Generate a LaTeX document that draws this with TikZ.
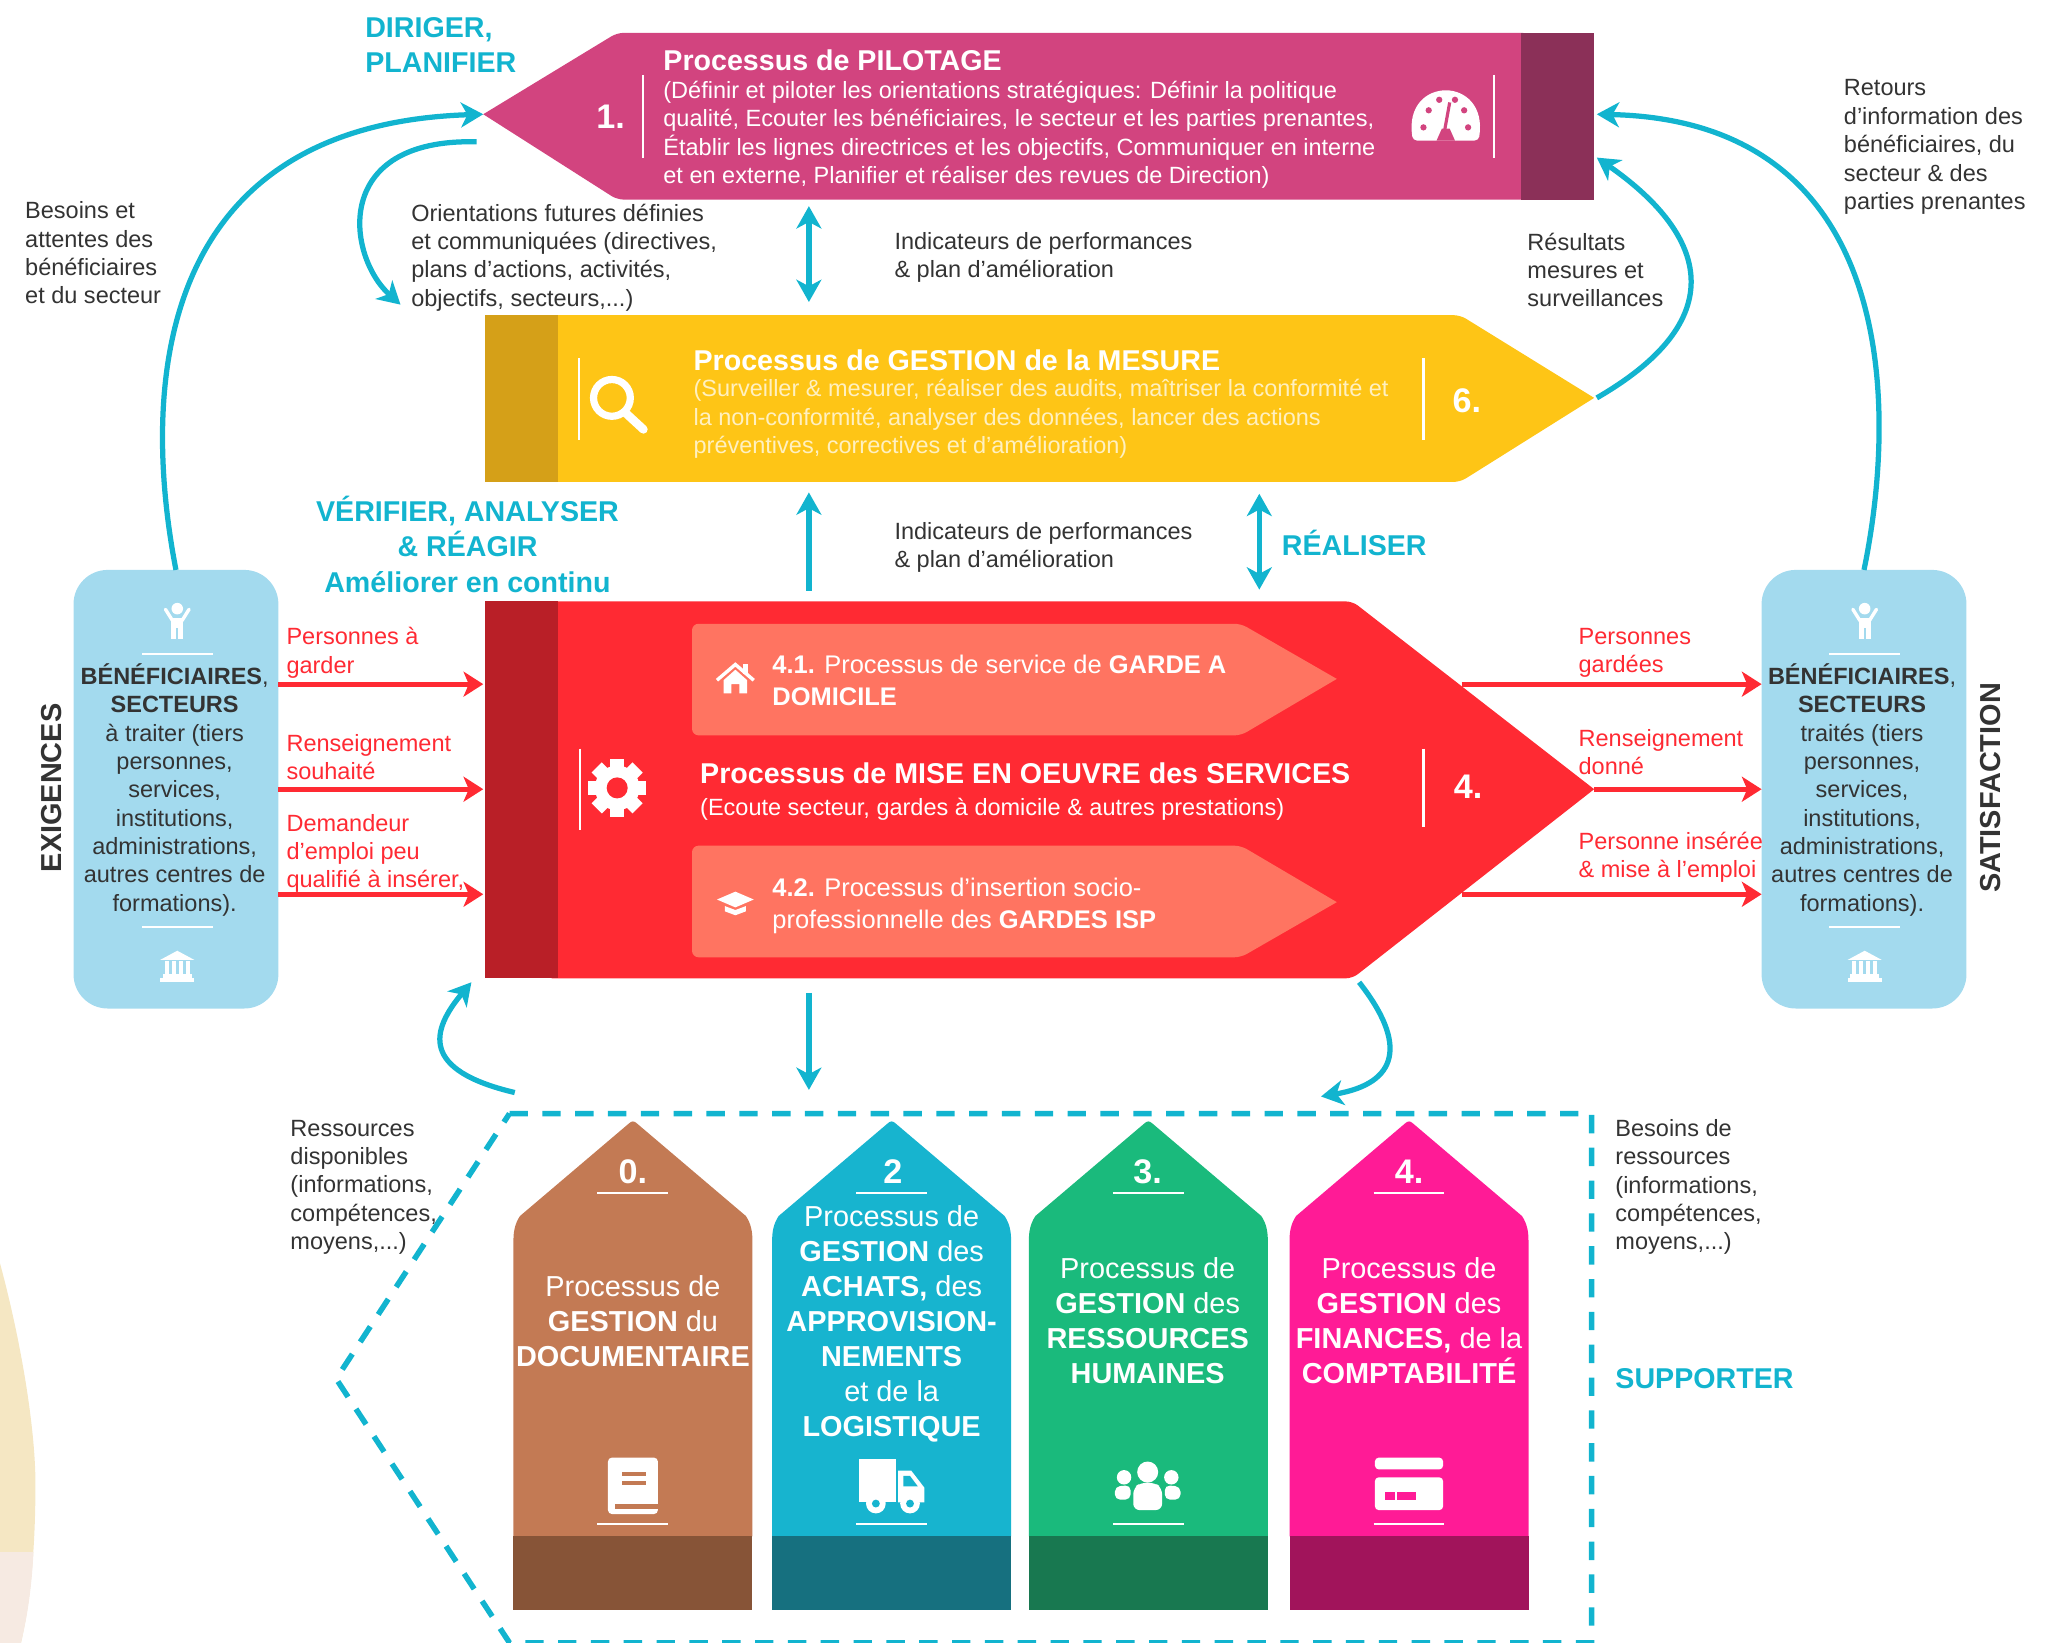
\documentclass[tikz,border=0pt]{standalone}
\usepackage{fontspec}
\setmainfont{Liberation Sans}
\usetikzlibrary{arrows.meta,calc}
\definecolor{tealc}{HTML}{12B4CF}
\definecolor{pilotc}{HTML}{D2447F}
\definecolor{pilotd}{HTML}{8B3058}
\definecolor{yellowc}{HTML}{FEC516}
\definecolor{yellowd}{HTML}{D5A018}
\definecolor{yellowt}{HTML}{FFF0C0}
\definecolor{redc}{HTML}{FF2A33}
\definecolor{redd}{HTML}{B91F27}
\definecolor{salmonc}{HTML}{FF7461}
\definecolor{bluebox}{HTML}{A3DAEE}
\definecolor{txtc}{HTML}{333333}
\definecolor{creamc}{HTML}{F5E7C3}
\definecolor{creaml}{HTML}{F6EAE2}
\definecolor{brownc}{HTML}{C37A54}
\definecolor{brownd}{HTML}{875437}
\definecolor{cyanc}{HTML}{17B4CF}
\definecolor{cyand}{HTML}{16707F}
\definecolor{greenc}{HTML}{1ABA7C}
\definecolor{greend}{HTML}{187850}
\definecolor{pinkc}{HTML}{FF1B96}
\definecolor{pinkd}{HTML}{A1145B}
\tikzset{
	lab/.style={anchor=west, align=left, inner sep=0pt, text=txtc, font=\fontsize{17.9}{21.6}\selectfont},
	redlab/.style={lab, text=redc},
	head/.style={anchor=west, align=left, inner sep=0pt, text=tealc, font=\fontsize{21.8}{26.5}\selectfont\bfseries},
	ptitle/.style={anchor=west, inner sep=0pt, text=white, font=\fontsize{21.8}{26}\selectfont\bfseries},
	pbody/.style={anchor=west, align=left, inner sep=0pt, text=white, font=\fontsize{17.9}{21.6}\selectfont},
	pnum/.style={inner sep=0pt, text=white, font=\fontsize{26}{30}\selectfont\bfseries},
	sidebox/.style={fill=bluebox, rounded corners=26pt, minimum width=156pt, minimum height=334pt, inner sep=0pt, outer sep=0pt},
	boxtext/.style={align=center, inner sep=0pt, text=txtc, font=\fontsize{17.9}{21.6}\selectfont},
	side/.style={inner sep=0pt, text=txtc, rotate=90, font=\fontsize{22}{26}\selectfont\bfseries},
	pillartext/.style={align=center, inner sep=0pt, text=white, font=\fontsize{22}{26.7}\selectfont},
	tealarrow/.style={draw=tealc, line width=4pt, -{Stealth[length=17pt,width=19pt,inset=5pt]}},
	tealboth/.style={tealarrow, {Stealth[length=17pt,width=19pt,inset=5pt]}-{Stealth[length=17pt,width=19pt,inset=5pt]}},
	redarrow/.style={draw=redc, line width=3.8pt, -{Stealth[length=15pt,width=19pt,inset=4pt]}}
}
\def\divider(#1)(#2){\draw[white, line width=1.6pt] (#1) -- (#2);}
\def\iconperson(#1){\begin{scope}[shift={(#1)}]
	\fill[white] (0,-9.5) circle (4.4pt);
	\draw[white, line width=2.6pt, line cap=round] (-9,-9) -- (-4,-1) -- (4,-1) -- (9,-9);
	\fill[white] (-4.5,-2) rectangle (4.5,5);
	\fill[white] (-4.5,4) rectangle (-0.8,13.5);
	\fill[white] (0.8,4) rectangle (4.5,13.5);
\end{scope}}
\def\iconbank(#1){\begin{scope}[shift={(#1)}]
	\fill[white] (-13,-5) -- (0,-12) -- (13,-5) -- cycle;
	\foreach \cx in {-8,-2.5,2.5,8} {\fill[white] (\cx-1.5,-4) rectangle (\cx+1.5,6);}
	\fill[white] (-11,6) rectangle (11,8.5);
	\fill[white] (-13,9) rectangle (13,12);
\end{scope}}
\def\icongauge(#1){\begin{scope}[shift={(#1)}]
	\fill[white, rounded corners=3pt] (-25,17) .. controls (-33,-33) and (33,-33) .. (25,17) -- cycle;
	\foreach \dx/\dy in {-17/7,-13/-6,-5/-14,7/-14,17/7,14/-6} {\fill[pilotc] (\dx,\dy) circle (2.4pt);}
	\draw[pilotc, line width=2.4pt] (-1,10) -- (3,-12);
	\fill[pilotc] (-7,17) -- (-3,8) -- (3,8) -- (7,17) -- cycle;
\end{scope}}
\def\iconlens(#1){\begin{scope}[shift={(#1)}]
	\draw[white, line width=5.5pt] (-4,-4) circle (14pt);
	\draw[white, line width=6.5pt, line cap=round] (7,8) -- (20,20);
\end{scope}}
\def\icongear(#1){\begin{scope}[shift={(#1)}]
	\foreach \a in {0,45,...,315} {\fill[white, rotate=\a] (-5.5,-22) rectangle (5.5,-12);}
	\fill[white] (0,0) circle (17pt);
	\fill[redc] (0,0) circle (8pt);
\end{scope}}
\def\iconhouse(#1){\begin{scope}[shift={(#1)}]
	\draw[white, line width=2.6pt] (-14,1) -- (0,-11) -- (14,1);
	\fill[white] (-9,1) -- (0,-7) -- (9,1) -- (9,11) -- (3,11) -- (3,4) -- (-3,4) -- (-3,11) -- (-9,11) -- cycle;
	\fill[white] (6,-11) rectangle (10,-4);
\end{scope}}
\def\iconcap(#1){\begin{scope}[shift={(#1)}]
	\fill[white] (-14,-2) -- (0,-8) -- (14,-2) -- (0,4) -- cycle;
	\fill[white] (-8,3) -- (0,6) -- (8,3) -- (8,7) -- (0,10) -- (-8,7) -- cycle;
\end{scope}}
\def\iconbook(#1){\begin{scope}[shift={(#1)}]
	\fill[white, rounded corners=3pt] (-19,-21) rectangle (19,22);
	\fill[brownc] (-8,-10) rectangle (10,-7);
	\fill[brownc] (-8,-3) rectangle (10,0);
	\fill[brownc] (-14,14) rectangle (19,18);
\end{scope}}
\def\icontruck(#1){\begin{scope}[shift={(#1)}]
	\fill[white] (-25,-20) rectangle (3,13);
	\fill[white] (5,-11) -- (15,-11) -- (25,2) -- (25,13) -- (5,13) -- cycle;
	\fill[cyanc] (9,-7) -- (14,-7) -- (20,1) -- (9,1) -- cycle;
	\fill[white] (-12,14) circle (7.5pt);
	\fill[cyanc] (-12,14) circle (3pt);
	\fill[white] (14,14) circle (7.5pt);
	\fill[cyanc] (14,14) circle (3pt);
\end{scope}}
\def\iconpeople(#1){\begin{scope}[shift={(#1)}]
	\fill[white] (0,-10) circle (8pt);
	\fill[white] (-18,-6) circle (5.5pt);
	\fill[white] (18,-6) circle (5.5pt);
	\fill[white, rounded corners=4pt] (-25,11) -- (-25,1) -- (-13,0) -- (-13,11) -- cycle;
	\fill[white, rounded corners=4pt] (25,11) -- (25,1) -- (13,0) -- (13,11) -- cycle;
	\fill[white, rounded corners=5pt] (-11,19) -- (-11,2) -- (-5,-2) -- (5,-2) -- (11,2) -- (11,19) -- cycle;
\end{scope}}
\def\iconcard(#1){\begin{scope}[shift={(#1)}]
	\fill[white, rounded corners=3pt] (-26,-21) rectangle (26,-12);
	\fill[white, rounded corners=3pt] (-26,-6) rectangle (26,19);
	\fill[pinkc] (-18,5) rectangle (-11,11);
	\fill[pinkc] (-9,5) rectangle (5,11);
\end{scope}}
\def\pillar(#1)(#2)(#3){\fill[#2] (#1-91,1170) -- (#1-91,945) .. controls (#1-91,938) and (#1-90,932) .. (#1-86,926) -- (#1-3,855.5) .. controls (#1-1,853.5) and (#1+1,853.5) .. (#1+3,855.5) -- (#1+86,926) .. controls (#1+90,932) and (#1+91,938) .. (#1+91,945) -- (#1+91,1170) -- cycle;
	\fill[#3] (#1-91,1170) rectangle (#1+91,1226);
	\draw[white, line width=1.8pt] (#1-27,908.5) -- (#1+27,908.5);
	\draw[white, line width=1.8pt] (#1-27,1160.5) -- (#1+27,1160.5);}

\begin{document}
\begin{tikzpicture}[x=1pt, y=-1pt]
	\useasboundingbox (0,0) rectangle (1568,1251);
	%%%%% START %%%%%
	\fill[creamc] (0,962) .. controls (17,1025) and (27,1090) .. (27,1130) .. controls (27,1180) and (23,1220) .. (16,1251) -- (0,1251) -- cycle;
	\fill[creaml] (0,1182) -- (25.5,1182) .. controls (24,1210) and (21,1230) .. (16,1251) -- (0,1251) -- cycle;

	% pilotage
	\fill[pilotc] (368,87) [rounded corners=5pt] -- (470,25) [sharp corners] -- (1160,25) -- (1160,152) [rounded corners=5pt] -- (470,152) [sharp corners] -- cycle;
	\fill[pilotd] (1158,25) rectangle (1214,152);
	\coordinate (pilotTip) at (368,87);
	\coordinate (pilotOut) at (363,108);
	\coordinate (pilotRight) at (1216,87);
	\coordinate (pilotRes) at (1216,120);
	\coordinate (pilotBot) at (616,157);
	\node[pnum] (pilotNum) at (465,89) {1.};
	\divider(490,57)(490,120)
	\divider(1138,57)(1138,120)
	\node[ptitle] (pilotTitle) at (505,46) {Processus de PILOTAGE};
	\node[pbody] (pilotBody) at (505,102.5) {(Définir et piloter les orientations stratégiques: Définir la politique\\qualité, Ecouter les bénéficiaires, le secteur et les parties prenantes,\\Établir les lignes directrices et les objectifs, Communiquer en interne\\et en externe, Planifier et réaliser des revues de Direction)};
	\icongauge(1101,90)

	% mesure
	\fill[yellowc] (1214,303) [rounded corners=5pt] -- (1112,367) [sharp corners] -- (420,367) -- (420,240) [rounded corners=5pt] -- (1112,240) [sharp corners] -- cycle;
	\fill[yellowd] (369,240) rectangle (425,367);
	\coordinate (mesTip) at (1216,303);
	\coordinate (mesTop) at (616,230);
	\coordinate (mesLeft) at (305,232);
	\coordinate (mesBot) at (616,375);
	\coordinate (mesBotR) at (959,376);
	\divider(441,273)(441,335)
	\divider(1084,273)(1084,335)
	\iconlens(470,307)
	\node[ptitle] (mesTitle) at (528,274) {Processus de GESTION de la MESURE};
	\node[pbody, text=yellowt] (mesBody) at (528,319) {(Surveiller \& mesurer, réaliser des audits, maîtriser la conformité et\\la non-conformité, analyser des données, lancer des actions\\préventives, correctives et d'amélioration)};
	\node[pnum] (mesNum) at (1117,305) {6.};

	% mise en oeuvre
	\fill[redc] (1214,601) [rounded corners=5pt] -- (1030,745) [sharp corners] -- (420,745) -- (420,458) [rounded corners=5pt] -- (1030,458) [sharp corners] -- cycle;
	\fill[redd] (369,458) rectangle (425,745);
	\coordinate (redTop) at (616,450);
	\coordinate (redTopR) at (959,449);
	\coordinate (redBot) at (616,756);
	\coordinate (redBotL) at (359,748);
	\coordinate (redBotR) at (1035,748);
	\fill[salmonc] (1018,517) [rounded corners=5pt] -- (945,560) -- (527,560) -- (527,475) -- (945,475) [sharp corners] -- cycle;
	\fill[salmonc] (1018,687) [rounded corners=5pt] -- (945,729) -- (527,729) -- (527,644) -- (945,644) [sharp corners] -- cycle;
	\iconhouse(560,517)
	\iconcap(560,687)
	\node[pbody, font=\fontsize{19.4}{24.5}\selectfont] (serviceA) at (588,518) {\textbf{4.1.} Processus de service de \textbf{GARDE A}\\\textbf{DOMICILE}};
	\node[pbody, font=\fontsize{19.4}{24.5}\selectfont] (serviceB) at (588,690) {\textbf{4.2.} Processus d'insertion socio-\\professionnelle des \textbf{GARDES ISP}};
	\divider(442,570)(442,632)
	\divider(1084,570)(1084,630)
	\icongear(470,600)
	\node[ptitle] (redTitle) at (533,589) {Processus de MISE EN OEUVRE des SERVICES};
	\node[pbody] (redBody) at (533,616) {(Ecoute secteur, gardes à domicile \& autres prestations)};
	\node[pnum] (redNum) at (1118,599) {4.};

	% side boxes
	\node[sidebox] (boxL) at (134,601) {};
	\node[sidebox] (boxR) at (1419.5,601) {};
	\iconperson(135,473)
	\iconperson(1420,473)
	\draw[white, line width=1.5pt] (108,498) -- (162,498);
	\draw[white, line width=1.5pt] (108,706) -- (162,706);
	\draw[white, line width=1.5pt] (1393,498) -- (1447,498);
	\draw[white, line width=1.5pt] (1393,706) -- (1447,706);
	\iconbank(135,736)
	\iconbank(1420,736)
	\node[boxtext] (boxLtext) at (133,601.5) {\textbf{BÉNÉFICIAIRES},\\\textbf{SECTEURS}\\à traiter (tiers\\personnes,\\services,\\institutions,\\administrations,\\autres centres de\\formations).};
	\node[boxtext] (boxRtext) at (1418,601.5) {\textbf{BÉNÉFICIAIRES},\\\textbf{SECTEURS}\\traités (tiers\\personnes,\\services,\\institutions,\\administrations,\\autres centres de\\formations).};
	\node[side] (exig) at (39,600) {EXIGENCES};
	\node[side] (satis) at (1516,600) {SATISFACTION};

	% red flows
	\coordinate (inA) at (368,521);
	\coordinate (inB) at (368,601);
	\coordinate (inC) at (368,681);
	\coordinate (outA) at (1113,521);
	\coordinate (outB) at (1214,601);
	\coordinate (outC) at (1113,681);
	\draw[redarrow] (boxL.east |- inA) -- (inA);
	\draw[redarrow] (boxL.east |- inB) -- (inB);
	\draw[redarrow] (boxL.east |- inC) -- (inC);
	\draw[redarrow] (outA) -- (boxR.west |- outA);
	\draw[redarrow] (outB) -- (boxR.west |- outB);
	\draw[redarrow] (outC) -- (boxR.west |- outC);
	\node[redlab] (redA) at (218,497) {Personnes à\\garder};
	\node[redlab] (redB) at (218,576.5) {Renseignement\\souhaité};
	\node[redlab] (redC) at (218,650) {Demandeur\\d'emploi peu\\qualifié à insérer,};
	\node[redlab] (redD) at (1202,497) {Personnes\\gardées};
	\node[redlab] (redE) at (1202,572.5) {Renseignement\\donné};
	\node[redlab] (redF) at (1202,653) {Personne insérée\\\& mise à l'emploi};

	% teal flows
	\draw[tealarrow] (boxL.north) .. controls (108,300) and (115,95) .. (pilotTip);
	\draw[tealarrow] (pilotOut) .. controls (252,105) and (264,195) .. (mesLeft);
	\draw[tealarrow] (boxR.north) .. controls (1447,300) and (1440,92) .. (pilotRight);
	\draw[tealarrow] (mesTip) .. controls (1325,240) and (1295,175) .. (pilotRes);
	\draw[tealboth] (pilotBot) -- (mesTop);
	\draw[tealarrow] (redTop) -- (mesBot);
	\draw[tealboth] (mesBotR) -- (redTopR);
	\coordinate (suppTop) at (616,830);
	\coordinate (suppL) at (392,832);
	\coordinate (suppR) at (1006,835);
	\draw[tealarrow] (redBot) -- (suppTop);
	\draw[tealarrow] (suppL) .. controls (320,815) and (328,785) .. (redBotL);
	\draw[tealarrow] (redBotR) .. controls (1072,795) and (1065,825) .. (suppR);

	% labels
	\node[head] (dirHead) at (278,34) {DIRIGER,\\PLANIFIER};
	\node[head, anchor=center, align=center, font=\fontsize{21.8}{27}\selectfont\bfseries] (verHead) at (356,414.5) {VÉRIFIER, ANALYSER\\\& RÉAGIR\\Améliorer en continu};
	\node[head] (reaHead) at (976,413.5) {RÉALISER};
	\node[head] (supHead) at (1230,1050) {SUPPORTER};
	\node[lab] (labBesoins) at (19,192.5) {Besoins et\\attentes des\\bénéficiaires\\et du secteur};
	\node[lab] (labOrient) at (313,196) {Orientations futures définies\\et communiquées (directives,\\plans d'actions, activités,\\objectifs, secteurs,...)};
	\node[lab] (labIndicA) at (681,196) {Indicateurs de performances\\\& plan d'amélioration};
	\node[lab] (labIndicB) at (681,417) {Indicateurs de performances\\\& plan d'amélioration};
	\node[lab] (labRes) at (1163,205.5) {Résultats\\mesures et\\surveillances};
	\node[lab] (labRet) at (1404,112) {Retours\\d'information des\\bénéficiaires, du\\secteur \& des\\parties prenantes};
	\node[lab] (labDispo) at (221,904) {Ressources\\disponibles\\(informations,\\compétences,\\moyens,...)};
	\node[lab] (labBes) at (1230,904) {Besoins de\\ressources\\(informations,\\compétences,\\moyens,...)};

	% support
	\draw[tealc, line width=4.2pt, dash pattern=on 14pt off 11pt] (388,848) -- (1212,848) -- (1212,1251) -- (388,1251) -- (256,1050) -- cycle;
	\pillar(482)(brownc)(brownd)
	\pillar(679)(cyanc)(cyand)
	\pillar(874.5)(greenc)(greend)
	\pillar(1073)(pinkc)(pinkd)
	\node[pnum] (numZero) at (482,892) {0.};
	\node[pnum] (numTwo) at (680,892) {2};
	\node[pnum] (numThree) at (874,892) {3.};
	\node[pnum] (numFour) at (1073,892) {4.};
	\node[pillartext] (textZero) at (482,1006) {Processus de\\\textbf{GESTION} du\\\textbf{DOCUMENTAIRE}};
	\node[pillartext] (textTwo) at (679,1008) {Processus de\\\textbf{GESTION} des\\\textbf{ACHATS,} des\\\textbf{APPROVISION-}\\\textbf{NEMENTS}\\et de la\\\textbf{LOGISTIQUE}};
	\node[pillartext] (textThree) at (874,1006) {Processus de\\\textbf{GESTION} des\\\textbf{RESSOURCES}\\\textbf{HUMAINES}};
	\node[pillartext] (textFour) at (1073,1006) {Processus de\\\textbf{GESTION} des\\\textbf{FINANCES,} de la\\\textbf{COMPTABILITÉ}};
	\iconbook(482,1131)
	\icontruck(679,1131)
	\iconpeople(874,1131)
	\iconcard(1073,1131)
	%%%%% END %%%%%
\end{tikzpicture}
\end{document}
